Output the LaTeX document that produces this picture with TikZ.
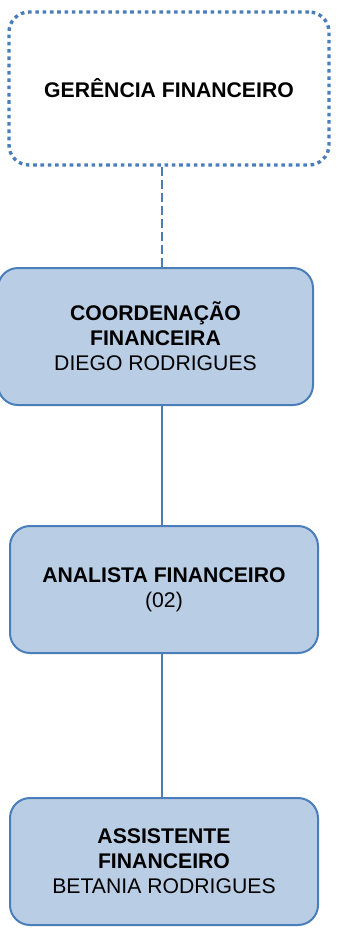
\documentclass[tikz,border=0pt]{standalone}
\usepackage{fontspec}
\setmainfont{Liberation Sans}
\definecolor{boxblue}{HTML}{B9CDE5}
\definecolor{lineblue}{HTML}{4A7EBB}

\begin{document}
\begin{tikzpicture}[x=1pt,y=-1pt,
    cargo/.style={draw=lineblue,fill=boxblue,line width=2pt,rounded corners=20pt,
      align=center,inner sep=0pt,minimum height=127pt,
      font=\fontsize{21.2}{25}\selectfont},
    ligacao/.style={draw=lineblue,line width=2pt}]
	\useasboundingbox (0,0) rectangle (338,930);
	\coordinate (eixo) at (162,0);

	\node[cargo,fill=white,dash pattern=on 3.6pt off 3.7pt,line width=3.4pt,
	  minimum width=320pt,minimum height=153pt] (gerencia) at (169,88.5)
	  {\textbf{GERÊNCIA FINANCEIRO}};
	\node[cargo,minimum width=315pt,minimum height=137pt] (coord) at (155.5,336.5)
	  {\textbf{COORDENAÇÃO}\\ \textbf{FINANCEIRA}\\ DIEGO RODRIGUES};
	\node[cargo,minimum width=308pt] (analista) at (164,589.5)
	  {\textbf{ANALISTA FINANCEIRO}\\ (02)};
	\node[cargo,minimum width=308pt] (assist) at (164,861.5)
	  {\textbf{ASSISTENTE}\\ \textbf{FINANCEIRO}\\ BETANIA RODRIGUES};

	\draw[ligacao,dash pattern=on 9pt off 4pt] (gerencia.south -| eixo) -- (coord.north -| eixo);
	\draw[ligacao] (coord.south -| eixo) -- (analista.north -| eixo);
	\draw[ligacao] (analista.south -| eixo) -- (assist.north -| eixo);
\end{tikzpicture}
\end{document}
